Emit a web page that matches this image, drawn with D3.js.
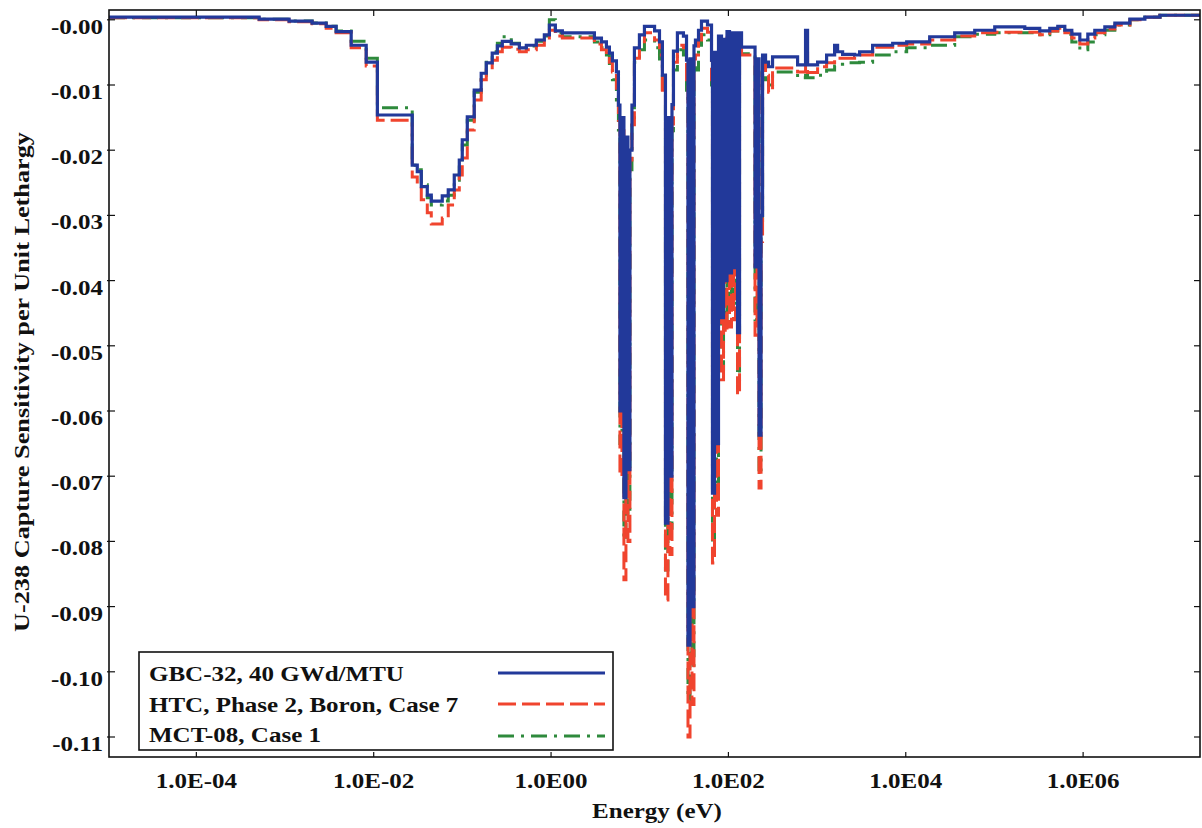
<!DOCTYPE html>
<html><head><meta charset="utf-8">
<script src="https://cdn.jsdelivr.net/npm/d3@7"></script>
<style>
body{margin:0;background:#fff;}
svg{display:block;}
text{font-family:"Liberation Serif","Times New Roman",serif;font-weight:bold;fill:#111;}
</style></head><body>
<svg id="chart" width="1202" height="828"></svg>
<script>
// Group lower bounds in eV (last entry is the upper bound of the last group)
const energyBounds = [1.035e-5, 5.1e-4, 1.11e-3, 2.02e-3, 2.91e-3, 3.77e-3, 5.57e-3, 8.23e-3, 1.10e-2, 2.72e-2,
  3.10e-2, 3.44e-2, 4.02e-2, 4.46e-2, 5.93e-2, 6.93e-2, 8.10e-2, 9.23e-2, 9.97e-2, 0.1136,
  0.136, 0.163, 0.186, 0.217, 0.248, 0.282, 0.356, 0.439, 0.526, 0.682,
  0.840, 0.957, 1.118, 1.341, 3.08, 3.70, 4.21, 4.55, 4.92, 5.46,
  5.75, 5.98, 6.30, 6.63, 6.99, 7.36, 7.75, 8.17, 8.71, 9.92,
  11.3, 14.7, 16.7, 18.0, 19.5, 20.8, 21.9, 23.1, 24.0, 26.6,
  31.1, 33.7, 35.0, 36.9, 38.8, 40.9, 42.5, 46.0, 49.7, 58.1,
  64.5, 66.1, 69.7, 73.4, 77.3, 83.6, 88.1, 92.0, 96.4, 102.9,
  108.4, 114.2, 120.3, 126.7, 133.5, 140.6, 199.6, 210.3, 221.5, 233.3,
  242.7, 262.3, 283.5, 314.6, 602.6, 741, 781, 1013, 1280, 1576,
  1703, 1940, 2650, 3017, 4230, 7120, 10240, 18610, 35640, 59950,
  100800, 219800, 324400, 420700, 518000, 621600, 745600, 918000, 1.13e6, 1.355e6,
  1.758e6, 2.28e6, 3.37e6, 4.97e6, 7.35e6,
  2.08e7];

const gbc32 = [0.0004, 0.0001, -0.0002, -0.0005, -0.0010, -0.0018, -0.0039, -0.0065, -0.0146, -0.0223,
  -0.0233, -0.0256, -0.0269, -0.0278, -0.0270, -0.0261, -0.0238, -0.0215, -0.0184, -0.0149,
  -0.0108, -0.0082, -0.0066, -0.0051, -0.0040, -0.0033, -0.0037, -0.0043, -0.0039, -0.0031,
  -0.0023, -0.0008, -0.0017, -0.0020, -0.0028, -0.0034, -0.0042, -0.0051, -0.0063, -0.0080,
  -0.0131, -0.0600, -0.0150, -0.0733, -0.0180, -0.0690, -0.0200, -0.0131, -0.0043, -0.0023,
  -0.0010, -0.0017, -0.0034, -0.0085, -0.0772, -0.0150, -0.0700, -0.0130, -0.0048, -0.0020,
  -0.0025, -0.0062, -0.0959, -0.0060, -0.0900, -0.0040, -0.0031, -0.0016, -0.0002, -0.0008,
  -0.0062, -0.0726, -0.0050, -0.0650, -0.0025, -0.0457, -0.0030, -0.0400, -0.0018, -0.0388,
  -0.0020, -0.0380, -0.0020, -0.0480, -0.0020, -0.0042, -0.0379, -0.0060, -0.0637, -0.0300,
  -0.0054, -0.0065, -0.0072, -0.0057, -0.0069, -0.0016, -0.0069, -0.0065, -0.0054, -0.0039,
  -0.0049, -0.0053, -0.0054, -0.0049, -0.0039, -0.0036, -0.0034, -0.0026, -0.0020, -0.0016,
  -0.0011, -0.0013, -0.0017, -0.0013, -0.0010, -0.0016, -0.0022, -0.0031, -0.0022, -0.0016,
  -0.0011, -0.0005, 0.0001, 0.0004, 0.0007];

const htcPhase2 = [0.0003, 0.0000, -0.0003, -0.0006, -0.0013, -0.0020, -0.0043, -0.0071, -0.0154, -0.0241,
  -0.0256, -0.0276, -0.0296, -0.0313, -0.0304, -0.0284, -0.0261, -0.0238, -0.0212, -0.0169,
  -0.0123, -0.0092, -0.0077, -0.0062, -0.0049, -0.0042, -0.0045, -0.0049, -0.0046, -0.0039,
  -0.0031, -0.0016, -0.0025, -0.0028, -0.0037, -0.0046, -0.0056, -0.0065, -0.0080, -0.0105,
  -0.0154, -0.0700, -0.0170, -0.0859, -0.0200, -0.0800, -0.0215, -0.0161, -0.0059, -0.0039,
  -0.0020, -0.0031, -0.0054, -0.0108, -0.0890, -0.0170, -0.0820, -0.0160, -0.0065, -0.0039,
  -0.0043, -0.0092, -0.1100, -0.0080, -0.1050, -0.0060, -0.0054, -0.0031, -0.0013, -0.0019,
  -0.0092, -0.0833, -0.0070, -0.0760, -0.0039, -0.0552, -0.0045, -0.0480, -0.0028, -0.0471,
  -0.0030, -0.0460, -0.0030, -0.0575, -0.0031, -0.0054, -0.0484, -0.0075, -0.0718, -0.0340,
  -0.0065, -0.0085, -0.0111, -0.0074, -0.0080, -0.0051, -0.0081, -0.0072, -0.0066, -0.0062,
  -0.0059, -0.0059, -0.0057, -0.0054, -0.0042, -0.0039, -0.0037, -0.0031, -0.0025, -0.0020,
  -0.0019, -0.0019, -0.0023, -0.0017, -0.0013, -0.0020, -0.0028, -0.0037, -0.0028, -0.0020,
  -0.0014, -0.0008, 0.0000, 0.0004, 0.0007];

const mct08 = [0.0003, 0.0001, -0.0002, -0.0005, -0.0010, -0.0017, -0.0033, -0.0059, -0.0135, -0.0223,
  -0.0230, -0.0253, -0.0273, -0.0284, -0.0278, -0.0269, -0.0246, -0.0220, -0.0192, -0.0154,
  -0.0111, -0.0085, -0.0065, -0.0049, -0.0036, -0.0026, -0.0036, -0.0043, -0.0040, -0.0033,
  -0.0025, 0.0000, -0.0020, -0.0026, -0.0034, -0.0043, -0.0054, -0.0071, -0.0092, -0.0123,
  -0.0169, -0.0650, -0.0180, -0.0798, -0.0210, -0.0760, -0.0230, -0.0154, -0.0065, -0.0046,
  -0.0031, -0.0043, -0.0069, -0.0115, -0.0844, -0.0180, -0.0780, -0.0170, -0.0077, -0.0046,
  -0.0054, -0.0108, -0.1043, -0.0090, -0.0990, -0.0070, -0.0077, -0.0039, -0.0023, -0.0031,
  -0.0100, -0.0798, -0.0080, -0.0720, -0.0046, -0.0537, -0.0050, -0.0460, -0.0036, -0.0445,
  -0.0040, -0.0440, -0.0040, -0.0552, -0.0039, -0.0052, -0.0460, -0.0080, -0.0690, -0.0320,
  -0.0074, -0.0092, -0.0100, -0.0080, -0.0089, -0.0085, -0.0089, -0.0085, -0.0077, -0.0071,
  -0.0068, -0.0066, -0.0066, -0.0065, -0.0054, -0.0049, -0.0043, -0.0039, -0.0026, -0.0022,
  -0.0020, -0.0020, -0.0023, -0.0017, -0.0013, -0.0022, -0.0034, -0.0046, -0.0034, -0.0023,
  -0.0016, -0.0008, 0.0000, 0.0004, 0.0007];

const seriesNames = ["GBC-32, 40 GWd/MTU", "HTC, Phase 2, Boron, Case 7", "MCT-08, Case 1"];
const xTickValues = [1e-4, 1e-2, 1, 1e2, 1e4, 1e6];
const xTickLabels = ["1.0E-04", "1.0E-02", "1.0E00", "1.0E02", "1.0E04", "1.0E06"];
const yTickValues = [0, -0.01, -0.02, -0.03, -0.04, -0.05, -0.06, -0.07, -0.08, -0.09, -0.10, -0.11];
const yTickLabels = ["-0.00", "-0.01", "-0.02", "-0.03", "-0.04", "-0.05", "-0.06", "-0.07", "-0.08", "-0.09", "-0.10", "-0.11"];
const xTitle = "Energy (eV)";
const yTitle = "U-238 Capture Sensitivity per Unit Lethargy";

const L = 109, R = 1200, T = 10, B = 757;
const svg = d3.select("#chart");
const x = d3.scaleLog().domain([1.035e-5, 2.08e7]).range([L, R]);
const y = d3.scaleLinear().domain([0, -0.11]).range([19.8, 737]);
const STRETCH = 1.25;
function stretch(sel, k) {
  sel.each(function () {
    const len = this.getComputedTextLength();
    this.setAttribute("textLength", len * k);
    this.setAttribute("lengthAdjust", "spacingAndGlyphs");
  });
}

svg.append("rect").attr("width", 1202).attr("height", 828).attr("fill", "#fff");

svg.append("defs").append("clipPath").attr("id", "clip")
  .append("rect").attr("x", L).attr("y", T).attr("width", R - L).attr("height", B - T);

const styles = [
  {data: mct08, color: "#2e8a3c", dash: "16,7,3,7", w: 3},
  {data: htcPhase2, color: "#f0442e", dash: "18,6", w: 3},
  {data: gbc32, color: "#22399a", dash: null, w: 3.2}
];
const line = d3.line().x(d => x(d[0])).y(d => y(d[1])).curve(d3.curveStepAfter);
const g = svg.append("g").attr("clip-path", "url(#clip)");
styles.forEach(s => {
  const pts = s.data.map((v, i) => [energyBounds[i], v]);
  pts.push([energyBounds[energyBounds.length - 1], s.data[s.data.length - 1]]);
  g.append("path").datum(pts).attr("d", line)
    .attr("fill", "none").attr("stroke", s.color).attr("stroke-width", s.w)
    .attr("stroke-dasharray", s.dash).attr("stroke-linejoin", "miter");
});

// frame
svg.append("rect").attr("x", L).attr("y", T).attr("width", R - L).attr("height", B - T)
  .attr("fill", "none").attr("stroke", "#111").attr("stroke-width", 1.6);

// ticks
yTickValues.forEach(v => {
  svg.append("line").attr("x1", L - 2).attr("x2", L + 6).attr("y1", y(v)).attr("y2", y(v)).attr("stroke", "#111").attr("stroke-width", 1.2);
  svg.append("line").attr("x1", R - 6).attr("x2", R).attr("y1", y(v)).attr("y2", y(v)).attr("stroke", "#111").attr("stroke-width", 1.2);
});
xTickValues.forEach(v => {
  svg.append("line").attr("x1", x(v)).attr("x2", x(v)).attr("y1", B).attr("y2", B - 5).attr("stroke", "#111").attr("stroke-width", 1.2);
  svg.append("line").attr("x1", x(v)).attr("x2", x(v)).attr("y1", T).attr("y2", T + 6).attr("stroke", "#111").attr("stroke-width", 1.2);
});

// tick labels
const yl = svg.append("g").selectAll("text").data(yTickValues).join("text")
  .attr("x", 103).attr("y", d => y(d) + 14).attr("text-anchor", "end")
  .attr("font-size", 20).text((d, i) => yTickLabels[i]);
stretch(yl, STRETCH);
const xl = svg.append("g").selectAll("text").data(xTickValues).join("text")
  .attr("x", d => x(d)).attr("y", 788).attr("text-anchor", "middle")
  .attr("font-size", 20).text((d, i) => xTickLabels[i]);
stretch(xl, STRETCH);

// axis titles
const xt = svg.append("text").attr("x", 657).attr("y", 818).attr("text-anchor", "middle")
  .attr("font-size", 20).text(xTitle);
stretch(xt, STRETCH);
const yt = svg.append("text").attr("transform", "translate(29,382) rotate(-90)").attr("text-anchor", "middle")
  .attr("font-size", 21).text(yTitle);
stretch(yt, STRETCH);

// legend
const lg = svg.append("g");
lg.append("rect").attr("x", 139).attr("y", 652).attr("width", 474).attr("height", 98)
  .attr("fill", "#fff").attr("stroke", "#111").attr("stroke-width", 1.6);
const legendRows = [
  {name: seriesNames[0], color: "#22399a", dash: null, ty: 681, ly: 673},
  {name: seriesNames[1], color: "#f0442e", dash: "18,6", ty: 712, ly: 704},
  {name: seriesNames[2], color: "#2e8a3c", dash: "16,7,3,7", ty: 742, ly: 736}
];
legendRows.forEach(r => {
  const t = lg.append("text").attr("x", 149).attr("y", r.ty).attr("font-size", 20).text(r.name);
  stretch(t, STRETCH);
  lg.append("line").attr("x1", 498).attr("x2", 605).attr("y1", r.ly).attr("y2", r.ly)
    .attr("stroke", r.color).attr("stroke-width", 3).attr("stroke-dasharray", r.dash);
});
</script>
</body></html>
